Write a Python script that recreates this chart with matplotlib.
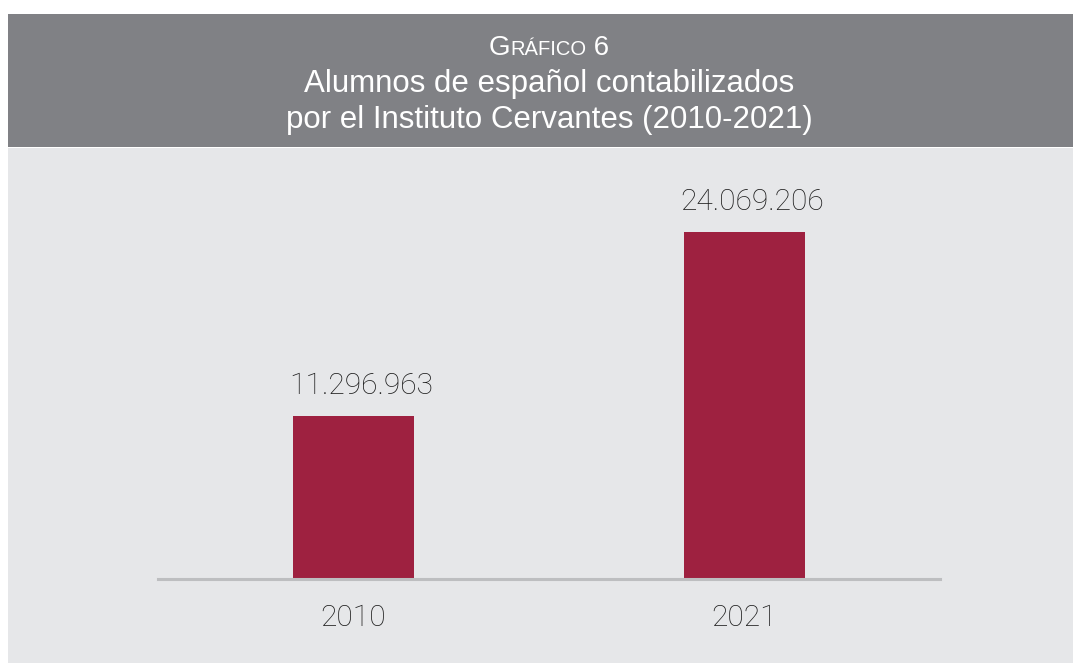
import matplotlib
matplotlib.use("Agg")
import matplotlib.pyplot as plt
from matplotlib.patches import Rectangle

plt.rcParams['font.family'] = ['Liberation Sans', 'DejaVu Sans']

years = ["2010", "2021"]
values = [11296963, 24069206]
value_labels = ["11.296.963", "24.069.206"]
title_label = "Gráfico"
title_num = "6"
title_lines = ["Alumnos de español contabilizados",
               "por el Instituto Cervantes (2010-2021)"]

W, H = 1073, 663
DPI = 100
fig = plt.figure(figsize=(W / DPI, H / DPI), dpi=DPI, facecolor="white")

HEADER = "#808185"
PANEL = "#e6e7e9"
BAR = "#9e2140"
AXIS = "#bdbec0"
TEXT = "#1c1c1c"
NUMFONT = ['Roboto', 'Liberation Sans', 'DejaVu Sans']

def fx(px):
    return px / W

def fy(py):
    return (H - py) / H

# header and panel backgrounds
fig.patches.append(Rectangle((fx(8), fy(147)), fx(W) - fx(8) + 0.01, fy(14) - fy(147),
                             transform=fig.transFigure, facecolor=HEADER,
                             edgecolor="none", zorder=-5))
fig.patches.append(Rectangle((fx(8), -0.01), fx(W) - fx(8) + 0.01, fy(148) + 0.01,
                             transform=fig.transFigure, facecolor=PANEL,
                             edgecolor="none", zorder=-5))

# axes
ax = fig.add_axes([fx(158), fy(579), fx(940) - fx(158), fy(160) - fy(579)])
ax.set_zorder(2)
ax.patch.set_visible(False)
x = list(range(len(years)))
ax.bar(x, values, width=0.312, color=BAR, zorder=2)
ax.set_xlim(-0.5, 1.5)
ax.set_ylim(0, 29.06e6)
for s in ("top", "left", "right"):
    ax.spines[s].set_visible(False)
ax.spines["bottom"].set_color(AXIS)
ax.spines["bottom"].set_linewidth(2.2)
ax.spines["bottom"].set_zorder(3)
ax.set_yticks([])
ax.set_xticks(x)
ax.set_xticklabels(years, fontsize=21.5, color=TEXT, family=NUMFONT,
                   fontweight="light")
ax.tick_params(axis="x", length=0, pad=18)

for xi, v, lab in zip(x, values, value_labels):
    ax.annotate(lab, (xi, v), xytext=(8 * 0.72, 22 * 0.72),
                textcoords="offset points", ha="center", va="baseline",
                fontsize=21.5, color=TEXT, family=NUMFONT, fontweight="light")

# title
cx = fx(549)
fig.text(cx, fy(92), title_lines[0], ha="center", va="baseline",
         fontsize=22.5, color="white")
fig.text(cx, fy(128), title_lines[1], ha="center", va="baseline",
         fontsize=22.5, color="white")

# small caps "GRÁFICO 6"
renderer = fig.canvas.get_renderer()
big = 20
small = 14.5
pieces = [(title_label[0].upper(), big), (title_label[1:].upper(), small),
          (" " + title_num, big)]
widths = []
for txt, fs in pieces:
    t = fig.text(0, 0, txt, fontsize=fs)
    bb = t.get_window_extent(renderer=renderer)
    widths.append(bb.width)
    t.remove()
total = sum(widths)
start = 549 - total / 2
cur = start
for (txt, fs), w in zip(pieces, widths):
    fig.text(fx(cur), fy(55), txt, ha="left", va="baseline", fontsize=fs,
             color="white")
    cur += w

fig.savefig("out.png", dpi=DPI, facecolor="white")
